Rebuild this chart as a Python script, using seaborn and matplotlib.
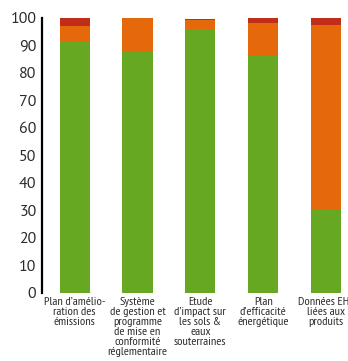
import matplotlib
matplotlib.use("Agg")
import matplotlib.pyplot as plt
import seaborn as sns
import numpy as np
import pandas as pd

categories = [
    "Plan d’amélio-\nration des\némissions",
    "Système\nde gestion et\nprogramme\nde mise en\nconformité\nréglementaire",
    "Etude\nd’impact sur\nles sols &\neaux\nsouterraines",
    "Plan\nd’efficacité\nénergétique",
    "Données EHS\nliées aux\nproduits",
]
green = [91.0, 88.0, 96.0, 86.0, 30.0]
orange = [6.0, 11.8, 3.1, 12.0, 67.3]
red = [3.0, 0.2, 0.6, 2.0, 2.7]
yticks = [0, 10, 20, 30, 40, 50, 60, 70, 80, 90, 100]

sns.set_theme(style="white")
plt.rcParams["font.family"] = ["PT Sans", "DejaVu Sans"]

df = pd.DataFrame({"cat": categories, "g": green, "o": orange, "r": red})
df["go"] = df["g"] + df["o"]
df["gor"] = df["go"] + df["r"]

fig = plt.figure(figsize=(3.48, 3.61), dpi=100)
ax = fig.add_axes([42 / 348, 1 - 292.7 / 361, 1 - 42 / 348 + 0.02, 275 / 361])

C_G, C_O, C_R = "#67A823", "#E5680A", "#C02E1A"
for col, c in (("gor", C_R), ("go", C_O), ("g", C_G)):
    sns.barplot(data=df, x="cat", y=col, color=c, width=0.48, ax=ax,
                saturation=1, linewidth=0, errorbar=None)

ax.set_ylim(0, 100)
ax.set_xlim(-0.52, 4.46)
ax.set_yticks(yticks)
ax.set_yticklabels([str(v) for v in yticks], fontsize=11.5, color="#2b2b2b")
ax.set_xticks(range(len(categories)))
ax.set_xticklabels(categories, fontsize=8.8, color="#2b2b2b", linespacing=1.0,
                   family=["PT Sans Narrow", "DejaVu Sans"])
ax.tick_params(axis="y", length=0, pad=4)
ax.tick_params(axis="x", length=0, pad=3)
ax.set_xlabel("")
ax.set_ylabel("")
for s in ("top", "right", "bottom"):
    ax.spines[s].set_visible(False)
ax.spines["left"].set_color("black")
ax.spines["left"].set_linewidth(1.6)
ax.grid(False)

fig.savefig("out.png", dpi=100)
